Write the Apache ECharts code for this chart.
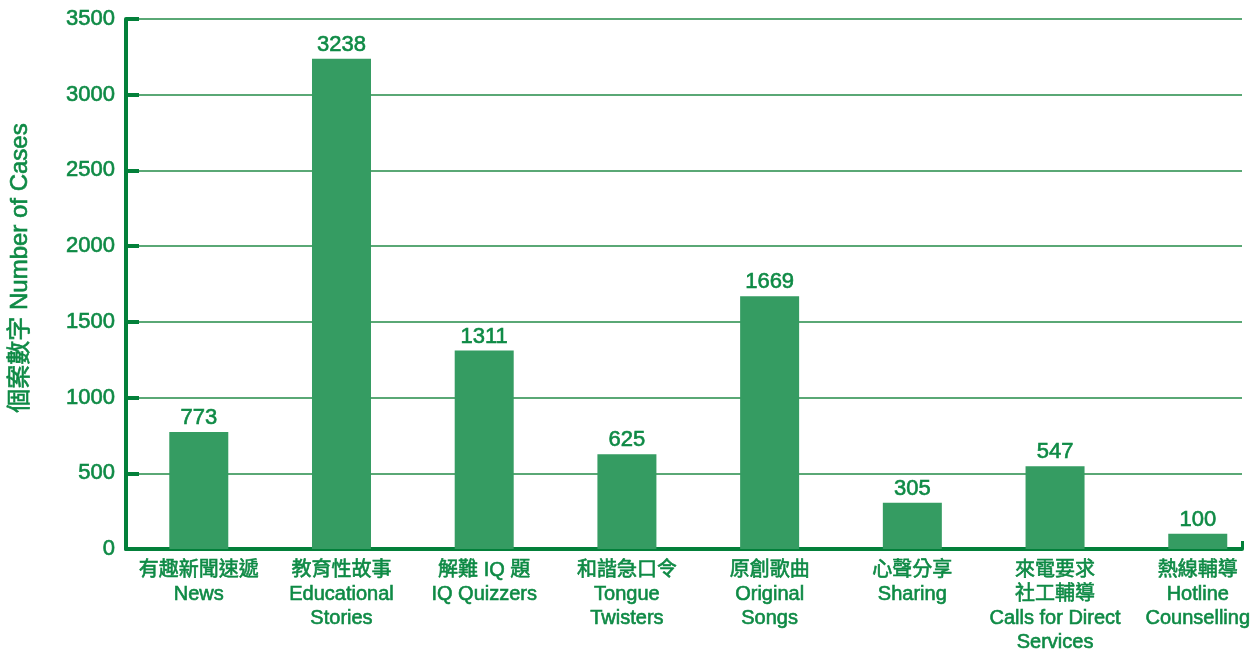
<!DOCTYPE html>
<html>
<head>
<meta charset="utf-8">
<script src="https://cdn.jsdelivr.net/npm/echarts@6/dist/echarts.min.js"></script>
<style>
  html, body { margin: 0; padding: 0; background: #ffffff; }
  #chart { width: 1260px; height: 652px; }
</style>
</head>
<body>
<div id="chart"></div>
<script>
// Programme categories (Chinese / English), one entry per bar
const categories = [
  '有趣新聞速遞\nNews',
  '教育性故事\nEducational\nStories',
  '解難 IQ 題\nIQ Quizzers',
  '和諧急口令\nTongue\nTwisters',
  '原創歌曲\nOriginal\nSongs',
  '心聲分享\nSharing',
  '來電要求\n社工輔導\nCalls for Direct\nServices',
  '熱線輔導\nHotline\nCounselling'
];
// Number of cases per category
const cases = [773, 3238, 1311, 625, 1669, 305, 547, 100];
// Value axis ticks
const yTicks = [0, 500, 1000, 1500, 2000, 2500, 3000, 3500];

const FONT = '"Liberation Sans", Arial, "Noto Sans CJK TC", sans-serif';
const TEXT = '#0e8a45';
const AXIS = '#03803a';
const GRIDLINE = '#5aa875';
const BAR = '#359c62';

// slight stroke in the text colour gives the labels their heavier look
const heavy = { textBorderColor: TEXT, textBorderWidth: 0.6 };

// category slots sit on a numeric axis so the last slot can run past the axis end
const xMin = -0.51, xMax = 7.31;
const positions = categories.map((_, i) => i);

const chart = echarts.init(document.getElementById('chart'), null, { renderer: 'canvas' });
chart.setOption({
  animation: false,
  backgroundColor: '#ffffff',
  textStyle: { fontFamily: FONT },
  grid: { left: 126, right: 18, top: 19, bottom: 103, containLabel: false, outerBoundsMode: 'none' },
  xAxis: {
    type: 'value',
    min: xMin,
    max: xMax,
    axisLine: { show: true, onZero: false, lineStyle: { color: AXIS, width: 4 } },
    axisTick: { show: true, inside: true, length: 8, customValues: [xMax], lineStyle: { color: AXIS, width: 3 } },
    splitLine: { show: false },
    axisLabel: Object.assign({
      show: true,
      customValues: positions,
      formatter: v => categories[Math.round(v)],
      color: TEXT,
      fontFamily: FONT,
      fontSize: 20,
      lineHeight: 24,
      margin: 9,
      align: 'center',
      verticalAlign: 'top'
    }, heavy)
  },
  yAxis: {
    type: 'value',
    min: yTicks[0],
    max: yTicks[yTicks.length - 1],
    interval: 500,
    name: '個案數字 Number of Cases',
    nameLocation: 'middle',
    nameGap: 94,
    nameRotate: 90,
    nameTextStyle: Object.assign({ color: TEXT, fontSize: 24, fontFamily: FONT, padding: [0, 0, 0, 32] }, heavy),
    axisLine: { show: true, onZero: false, lineStyle: { color: AXIS, width: 4 } },
    axisTick: { show: true, inside: true, length: 13, lineStyle: { color: AXIS, width: 4 } },
    splitLine: { show: true, lineStyle: { color: GRIDLINE, width: 2 } },
    axisLabel: Object.assign({ color: TEXT, fontSize: 22, fontFamily: FONT, margin: 11, formatter: v => String(v) }, heavy)
  },
  series: [{
    type: 'bar',
    barWidth: 59,
    data: positions.map((p, i) => [p, cases[i]]),
    itemStyle: { color: BAR },
    label: Object.assign({
      show: true,
      position: 'top',
      distance: 3,
      color: TEXT,
      fontSize: 22,
      fontFamily: FONT,
      formatter: p => String(p.value[1])
    }, heavy),
    z: 3
  }]
});
</script>
</body>
</html>
